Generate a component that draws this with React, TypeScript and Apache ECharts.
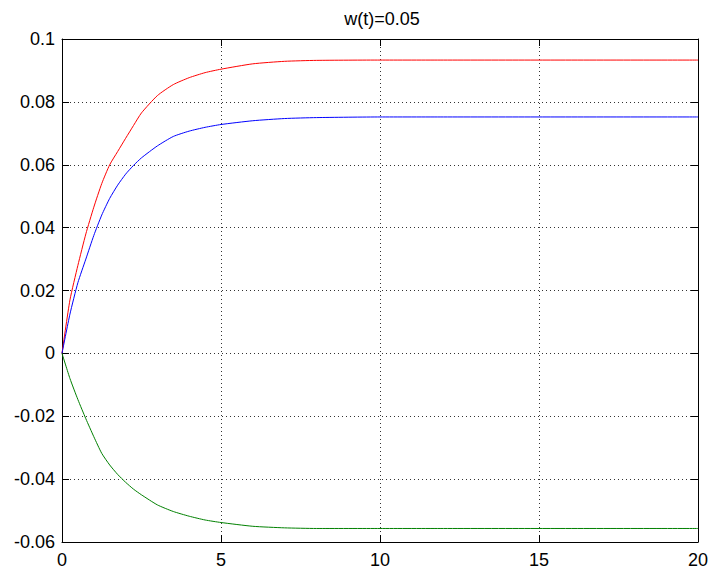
import React, { useEffect, useRef } from "react";
import * as echarts from "echarts";

const TITLE = "w(t)=0.05";
const timeValues = [0, 0.25, 0.5, 0.75, 1, 1.25, 1.5, 1.75, 2, 2.25, 2.5, 3, 3.5, 4, 4.5, 5, 6, 7, 8, 10, 12, 15, 20];
const redValues = [0, 0.017, 0.028, 0.038, 0.0465, 0.054, 0.06, 0.0642, 0.0684, 0.0725, 0.0765, 0.082, 0.0855, 0.0877, 0.0893, 0.0904, 0.0921, 0.0929, 0.0932, 0.0933, 0.0933, 0.0933, 0.0933];
const blueValues = [0, 0.0125, 0.0225, 0.03, 0.0375, 0.044, 0.0493, 0.0535, 0.057, 0.0598, 0.0622, 0.066, 0.069, 0.0707, 0.0719, 0.0728, 0.074, 0.0747, 0.075, 0.0752, 0.0752, 0.0752, 0.0752];
const greenValues = [0, -0.008, -0.0147, -0.0208, -0.0265, -0.0318, -0.0355, -0.0385, -0.041, -0.0432, -0.045, -0.0482, -0.0503, -0.0518, -0.053, -0.0538, -0.055, -0.0555, -0.0557, -0.0557, -0.0557, -0.0557, -0.0557];

const FONT = '"Liberation Sans", Arial, sans-serif';

export default function App() {
  const ref = useRef<HTMLDivElement>(null);
  useEffect(() => {
    if (!ref.current) return;
    const chart = echarts.init(ref.current, null, { renderer: "svg" });
    const pairs = (vals: number[]) => timeValues.map((t, i) => [t, vals[i]]);
    const gridLine = { show: true, lineStyle: { color: "#333", type: [1, 3] as any, width: 1 } };
    const axisLine = { show: true, onZero: false, lineStyle: { color: "#000", width: 1 } };
    const tick = { show: true, inside: true, length: 7, lineStyle: { color: "#000" } };
    const label = { color: "#000", fontSize: 18, fontFamily: FONT };
    chart.setOption({
      animation: false,
      backgroundColor: "#fff",
      grid: { left: 62, top: 39, right: 9, bottom: 27, show: false, containLabel: false },
      graphic: [
        {
          type: "text",
          x: 382,
          y: 19,
          style: { text: TITLE, font: `18px ${FONT}`, fill: "#000", align: "center", verticalAlign: "middle" },
        },
      ],
      xAxis: [
        {
          type: "value", min: 0, max: 20, interval: 5, position: "bottom",
          axisLine, axisTick: tick, splitLine: gridLine,
          axisLabel: { ...label, margin: 9 },
        },
        {
          type: "value", min: 0, max: 20, interval: 5, position: "top",
          axisLine, axisTick: tick, splitLine: { show: false }, axisLabel: { show: false },
        },
      ],
      yAxis: [
        {
          type: "value", min: -0.06, max: 0.1, interval: 0.02, position: "left",
          axisLine, axisTick: tick, splitLine: gridLine,
          axisLabel: { ...label, margin: 7 },
        },
        {
          type: "value", min: -0.06, max: 0.1, interval: 0.02, position: "right",
          axisLine, axisTick: tick, splitLine: { show: false }, axisLabel: { show: false },
        },
      ],
      series: [
        { type: "line", data: pairs(redValues), showSymbol: false, smooth: 0.2, lineStyle: { color: "#ff0000", width: 1 }, xAxisIndex: 0, yAxisIndex: 0 },
        { type: "line", data: pairs(blueValues), showSymbol: false, smooth: 0.2, lineStyle: { color: "#0000ff", width: 1 }, xAxisIndex: 0, yAxisIndex: 0 },
        { type: "line", data: pairs(greenValues), showSymbol: false, smooth: 0.2, lineStyle: { color: "#008000", width: 1 }, xAxisIndex: 0, yAxisIndex: 0 },
      ],
    });
    return () => chart.dispose();
  }, []);
  return (
    <div
      ref={ref}
      style={{ position: "fixed", left: 0, top: 0, width: 711, height: 569, background: "#fff" }}
    />
  );
}
